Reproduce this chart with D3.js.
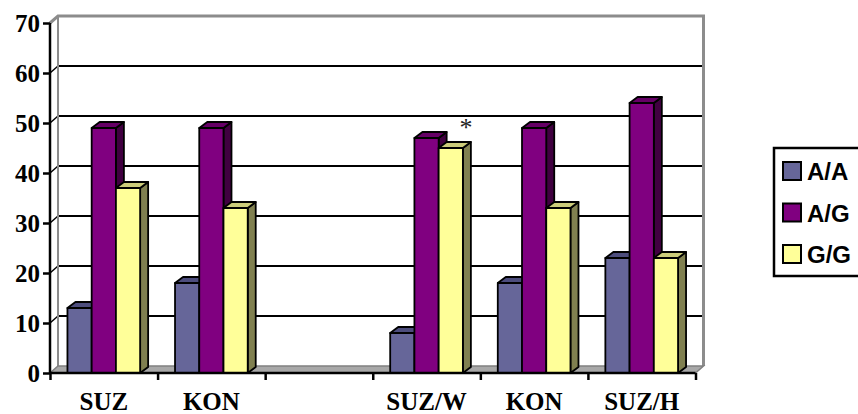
<!DOCTYPE html>
<html>
<head>
<meta charset="utf-8">
<script src="https://cdn.jsdelivr.net/npm/d3@7"></script>
<style>
  html, body { margin: 0; padding: 0; background: #fff; }
  svg { display: block; }
</style>
</head>
<body>
<svg id="chart" width="858" height="414"></svg>
<script>
// Genotype frequencies (%) per group
const categories = ["SUZ", "KON", "", "SUZ/W", "KON", "SUZ/H"];
const seriesNames = ["A/A", "A/G", "G/G"];
const valuesAA = [13, 18, null, 8, 18, 23];
const valuesAG = [49, 49, null, 47, 49, 54];
const valuesGG = [37, 33, null, 45, 33, 23];
const yTicks = [0, 10, 20, 30, 40, 50, 60, 70];
// significance marker: category index, series index
const markers = [{ cat: 3, series: 2, text: "*" }];

const seriesValues = [valuesAA, valuesAG, valuesGG];
const faceColors = [
  { front: "#666699", top: "#4d4d7d", side: "#3a3a5e" },
  { front: "#800080", top: "#660066", side: "#400040" },
  { front: "#ffff99", top: "#cccc7a", side: "#808050" }
];

const svg = d3.select("#chart");

// Plot frame
const plotLeft = 50, plotRight = 695.5, plotBottom = 373, plotTop = 23;
const wallDX = 8, wallDY = -7;   // depth of walls / floor
const barDX = 8, barDY = -6;     // depth of columns

const x = d3.scaleBand().domain(d3.range(categories.length)).range([plotLeft, plotRight]).padding(0);
const xs = d3.scaleBand().domain(d3.range(seriesNames.length)).range([0, x.bandwidth()])
  .paddingInner(0).paddingOuter(0.72);
const y = d3.scaleLinear().domain([0, 70]).range([plotBottom, plotTop]);

// Back wall gridlines (with the short diagonal across the side wall)
const grid = svg.append("g");
yTicks.filter(t => t > 0 && t < 70).forEach(t => {
  grid.append("line")
    .attr("x1", plotLeft + wallDX).attr("x2", plotRight + wallDX)
    .attr("y1", y(t) + wallDY).attr("y2", y(t) + wallDY)
    .attr("stroke", "#000").attr("stroke-width", 2);
  grid.append("line")
    .attr("x1", plotLeft).attr("x2", plotLeft + wallDX)
    .attr("y1", y(t)).attr("y2", y(t) + wallDY)
    .attr("stroke", "#000").attr("stroke-width", 1.5);
});

// Wall outline (grey)
const wallTop = y(70) + wallDY, wallBottom = y(0) + wallDY;
svg.append("path")
  .attr("d", `M${plotLeft},${y(70)} L${plotLeft + wallDX},${wallTop} L${plotRight + wallDX},${wallTop} L${plotRight + wallDX},${wallBottom}`)
  .attr("fill", "none").attr("stroke", "#8c8c8c").attr("stroke-width", 3);
svg.append("line")
  .attr("x1", plotLeft + wallDX).attr("x2", plotLeft + wallDX)
  .attr("y1", wallTop).attr("y2", wallBottom)
  .attr("stroke", "#8c8c8c").attr("stroke-width", 2);

// Floor
svg.append("path")
  .attr("d", `M${plotLeft},${y(0)} L${plotRight},${y(0)} L${plotRight + wallDX},${wallBottom} L${plotLeft + wallDX},${wallBottom} Z`)
  .attr("fill", "#a8a8a8").attr("stroke", "#808080").attr("stroke-width", 1.5);

// Columns, drawn left to right so each front face covers its neighbour's side
const bars = [];
categories.forEach((c, ci) => {
  seriesValues.forEach((vals, si) => {
    if (vals[ci] != null) bars.push({ ci, si, v: vals[ci] });
  });
});

const barG = svg.append("g")
  .attr("stroke", "#000").attr("stroke-width", 1.8).attr("stroke-linejoin", "round");
bars.forEach(b => {
  const x0 = x(b.ci) + xs(b.si);
  const x1 = x0 + xs.bandwidth();
  const yt = y(b.v), yb = y(0);
  const col = faceColors[b.si];
  const g = barG.append("g");
  g.append("path")
    .attr("d", `M${x1},${yt} L${x1 + barDX},${yt + barDY} L${x1 + barDX},${yb + barDY} L${x1},${yb} Z`)
    .attr("fill", col.side);
  g.append("path")
    .attr("d", `M${x0},${yt} L${x0 + barDX},${yt + barDY} L${x1 + barDX},${yt + barDY} L${x1},${yt} Z`)
    .attr("fill", col.top);
  g.append("rect")
    .attr("x", x0).attr("y", yt).attr("width", x1 - x0).attr("height", yb - yt)
    .attr("fill", col.front);
});

// Y axis
const yAxis = svg.append("g")
  .attr("transform", `translate(${plotLeft},0)`)
  .call(d3.axisLeft(y).tickValues(yTicks).tickSize(7).tickPadding(3));
yAxis.select(".domain").attr("stroke", "#000").attr("stroke-width", 2.5)
  .attr("d", `M0,${y(0)}V${y(70)}`);
yAxis.selectAll(".tick line").attr("stroke", "#000").attr("stroke-width", 2.5);
yAxis.selectAll("text")
  .attr("font-family", "'Liberation Serif', 'Times New Roman', serif")
  .attr("font-weight", "bold").attr("font-size", 25).attr("fill", "#000");

// X axis: category boundary ticks
const xEdge = d3.scaleLinear().domain([0, categories.length]).range([plotLeft, plotRight]);
const xTickAxis = svg.append("g")
  .attr("transform", `translate(0,${plotBottom})`)
  .call(d3.axisBottom(xEdge).tickValues(d3.range(categories.length + 1)).tickSize(7).tickFormat(""));
xTickAxis.select(".domain").attr("stroke", "#000").attr("stroke-width", 2.5)
  .attr("d", `M${plotLeft},0H${plotRight}`);
xTickAxis.selectAll(".tick line").attr("stroke", "#000").attr("stroke-width", 2.5);

// X axis: category labels
const xLabelAxis = svg.append("g")
  .attr("transform", `translate(0,${plotBottom})`)
  .call(d3.axisBottom(x).tickSize(0).tickPadding(19).tickFormat(i => categories[i]));
xLabelAxis.select(".domain").remove();
xLabelAxis.selectAll("text")
  .attr("font-family", "'Liberation Serif', 'Times New Roman', serif")
  .attr("font-weight", "bold").attr("font-size", 25).attr("fill", "#000");

// Significance markers
markers.forEach(m => {
  const vals = seriesValues[m.series];
  svg.append("text")
    .attr("x", x(m.cat) + xs(m.series) + xs.bandwidth() + 3)
    .attr("y", y(vals[m.cat]) - 12)
    .attr("text-anchor", "middle")
    .attr("font-family", "'Liberation Serif', 'Times New Roman', serif")
    .attr("font-size", 26).attr("fill", "#222")
    .text(m.text);
});

// Legend
const legend = svg.append("g");
legend.append("rect")
  .attr("x", 774).attr("y", 148).attr("width", 120).attr("height", 128)
  .attr("fill", "#fff").attr("stroke", "#000").attr("stroke-width", 2.5);
const legendY = d3.scalePoint().domain(seriesNames).range([171, 254]);
seriesNames.forEach((name, i) => {
  const cy = legendY(name);
  legend.append("rect")
    .attr("x", 783).attr("y", cy - 9).attr("width", 18).attr("height", 18)
    .attr("fill", faceColors[i].front).attr("stroke", "#000").attr("stroke-width", 2);
  legend.append("text")
    .attr("x", 807).attr("y", cy + 9)
    .attr("font-family", "'Liberation Sans', Arial, sans-serif")
    .attr("font-weight", "bold").attr("font-size", 24).attr("fill", "#000")
    .text(name);
});
</script>
</body>
</html>
